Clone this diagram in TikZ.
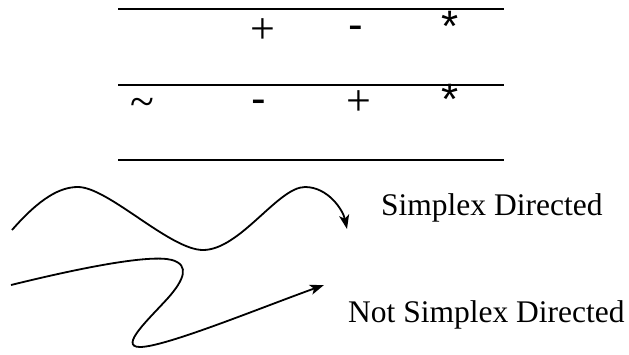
\documentclass[tikz,border=0pt]{standalone}
\usepackage{fontspec}
\setmainfont{Liberation Serif}
\newfontfamily\arialfont{Liberation Sans}
\usepackage{tikz}
\usetikzlibrary{arrows.meta}
\newcommand\bigtext{\fontsize{31.5pt}{38pt}\selectfont}
\newcommand\symtext{\fontsize{44pt}{50pt}\selectfont}

\begin{document}
\begin{tikzpicture}[x=1pt, y=-1pt, >={Stealth[length=14pt, width=10pt, inset=3.5pt]},
  every node/.style={font=\bigtext, inner sep=0pt},
  op/.style={font=\symtext}, sym/.style={font=\symtext\arialfont},
  rule/.style={line width=2.2pt}, wave/.style={line width=1.8pt}]
  \useasboundingbox (0,0) rectangle (629,354);
  % table rules
  \draw[rule] (118,9) -- (504,9);
  \draw[rule] (118,85) -- (504,85);
  \draw[rule] (118,160) -- (504,160);
  % first row
  \node[op] (plusA) at (263,31) {+};
  \node[sym] (minusA) at (356,33) {-};
  \node[sym] (starA) at (450,26) {*};
  % second row
  \node[op] (tilde) at (142,107) {\textasciitilde};
  \node[sym] (minusB) at (259,107) {-};
  \node[op] (plusB) at (359,103) {+};
  \node[sym] (starB) at (450,99) {*};
  % labels
  \node[anchor=west] (simplex) at (381,208) {Simplex Directed};
  \node[anchor=west] (notsimplex) at (348,315) {Not Simplex Directed};
  % curves
  \coordinate (waveA) at (12,230);
  \coordinate (tipA) at (347,229);
  \coordinate (waveB) at (11,285);
  \coordinate (tipB) at (324,285);
  \draw[wave, ->] (waveA) .. controls (40,198) and (60,187) .. (78,187)
    .. controls (108,187) and (170,250) .. (203,250)
    .. controls (240,250) and (278,187) .. (305,187)
    .. controls (328,187) and (343,210) .. (tipA);
  \draw[wave, ->] (waveB) .. controls (80,268) and (150,254) .. (172,260)
    .. controls (190,265) and (184,280) .. (168,298)
    .. controls (150,318) and (118,347) .. (140,347)
    .. controls (165,347) and (260,308) .. (tipB);
\end{tikzpicture}
\end{document}
